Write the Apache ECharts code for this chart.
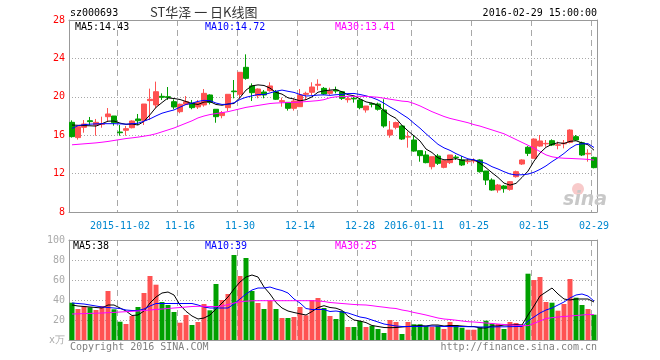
<!DOCTYPE html>
<html><head><meta charset="utf-8">
<script src="https://cdn.jsdelivr.net/npm/echarts@6.0.0/dist/echarts.min.js"></script>
<style>html,body{margin:0;padding:0;background:#fff}#c{width:660px;height:360px}</style>
</head><body><div id="c"></div>
<script>
const dates = ['2015-10-21','2015-10-22','2015-10-23','2015-10-26','2015-10-27','2015-10-28','2015-10-29','2015-10-30','2015-11-02','2015-11-03','2015-11-04','2015-11-05','2015-11-06','2015-11-09','2015-11-10','2015-11-11','2015-11-12','2015-11-13','2015-11-16','2015-11-17','2015-11-18','2015-11-19','2015-11-20','2015-11-23','2015-11-24','2015-11-25','2015-11-26','2015-11-27','2015-11-30','2015-12-01','2015-12-02','2015-12-03','2015-12-04','2015-12-07','2015-12-08','2015-12-09','2015-12-10','2015-12-11','2015-12-14','2015-12-15','2015-12-16','2015-12-17','2015-12-18','2015-12-21','2015-12-22','2015-12-23','2015-12-24','2015-12-25','2015-12-28','2015-12-29','2015-12-30','2015-12-31','2016-01-04','2016-01-05','2016-01-06','2016-01-07','2016-01-08','2016-01-11','2016-01-12','2016-01-13','2016-01-14','2016-01-15','2016-01-18','2016-01-19','2016-01-20','2016-01-21','2016-01-22','2016-01-25','2016-01-26','2016-01-27','2016-01-28','2016-01-29','2016-02-01','2016-02-02','2016-02-03','2016-02-04','2016-02-05','2016-02-15','2016-02-16','2016-02-17','2016-02-18','2016-02-19','2016-02-22','2016-02-23','2016-02-24','2016-02-25','2016-02-26','2016-02-29'];

const opens = [17.34,15.75,16.82,17.51,17.06,17.13,17.93,18.0,16.33,16.51,
 16.78,17.69,17.55,19.6,19.15,20.05,20.01,19.49,18.45,19.22,
 19.32,18.94,19.15,20.19,18.7,18.04,18.87,20.6,20.26,23.07,
 21.13,20.12,20.5,20.64,20.53,19.49,19.42,18.8,18.97,20.26,
 20.47,21.2,20.88,20.36,20.71,20.53,19.7,19.84,19.67,18.63,
 19.28,19.25,18.63,16.02,16.82,16.96,15.8,15.5,14.39,13.94,
 12.72,13.83,12.65,13.14,13.72,13.42,13.24,13.32,13.42,12.27,
 11.33,10.29,10.71,10.36,11.68,13.0,14.74,13.59,14.87,15.1,
 15.43,14.95,15.1,15.26,15.85,15.22,14.05,13.69];
const closes = [15.85,16.89,17.17,17.41,17.34,17.17,18.21,17.31,16.26,16.68,
 17.48,17.51,19.25,19.74,20.53,19.95,19.94,18.94,19.22,19.49,
 18.87,19.42,20.36,19.42,17.93,18.35,20.26,20.53,22.55,21.92,
 20.43,20.81,20.19,21.13,19.74,19.6,18.8,19.56,20.19,20.36,
 21.02,21.3,20.29,20.6,20.6,19.84,19.8,19.78,18.87,19.04,
 19.22,18.7,16.96,16.54,17.31,15.6,15.85,14.35,13.87,13.14,
 13.76,13.07,13.35,13.94,13.67,12.9,13.28,13.35,12.2,11.33,
 10.29,10.81,10.43,11.16,12.2,13.42,14.11,15.6,15.4,15.15,
 14.98,15.0,15.18,16.54,15.5,13.94,14.11,12.62];
const lows = [15.75,15.54,16.26,17.06,15.95,16.78,17.45,16.99,15.95,15.95,
 16.71,17.06,17.06,17.58,18.8,19.67,19.67,18.7,18.28,19.15,
 18.7,18.73,18.97,19.21,17.3,17.76,18.52,19.84,19.84,21.78,
 19.56,19.84,19.84,20.53,19.67,18.97,18.56,18.56,18.94,19.67,
 20.19,20.67,20.19,20.19,20.36,19.67,19.39,19.39,18.7,18.35,
 18.9,18.56,16.78,15.74,16.61,15.5,14.7,14.28,13.24,13.07,
 12.44,12.9,12.55,13.0,13.42,12.79,13.0,13.07,12.1,10.81,
 10.22,10.01,10.01,10.22,11.58,12.9,13.83,13.59,14.8,14.8,
 14.87,14.53,14.63,15.15,15.43,13.83,13.24,12.55];
const highs = [17.55,16.95,17.58,17.9,17.69,17.93,18.83,18.0,17.06,16.96,
 17.55,18.21,19.25,20.85,21.58,20.36,21.02,19.74,19.29,20.08,
 19.67,19.67,20.81,20.26,18.7,18.52,20.26,21.75,22.55,24.42,
 21.4,20.88,20.71,21.51,20.71,19.91,19.42,19.84,20.81,20.53,
 21.51,21.82,21.02,20.95,21.06,20.6,20.01,20.01,19.84,19.04,
 19.39,19.39,19.74,17.48,17.41,17.06,16.37,16.02,14.39,14.35,
 13.76,14.04,13.35,13.94,13.94,13.83,13.49,13.59,13.49,12.27,
 11.51,10.92,10.81,11.23,12.31,13.49,14.87,15.67,16.02,15.5,
 15.57,15.33,15.5,16.61,16.02,15.33,14.53,13.76];

const ma5 = [17.06,17.03,17.0,16.98,16.95,17.2,17.46,17.48,17.26,17.13,
 17.17,17.06,17.44,18.13,18.9,19.4,19.88,19.82,19.72,19.51,
 19.3,19.2,19.45,19.5,19.2,19.12,19.25,19.3,19.92,20.7,
 21.14,21.24,21.18,20.9,20.46,20.28,19.89,19.77,19.58,19.7,
 19.99,20.48,20.62,20.7,20.75,20.52,20.22,20.1,19.78,19.47,
 19.34,19.12,18.56,18.09,17.75,17.02,16.45,15.93,15.4,14.56,
 14.19,13.64,13.44,13.45,13.56,13.39,13.43,13.43,13.08,12.61,
 12.09,11.6,11.01,10.8,10.98,11.6,12.26,13.3,14.15,14.74,
 15.05,15.22,15.14,15.36,15.42,15.2,15.0,14.43];
const ma10 = [16.7,17.0,17.1,17.15,17.18,17.2,17.2,17.2,17.18,17.15,
 17.19,17.25,17.46,17.7,18.01,18.29,18.47,18.63,18.92,19.2,
 19.34,19.52,19.63,19.6,19.35,19.2,19.23,19.38,19.72,19.95,
 20.1,20.24,20.23,20.4,20.58,20.7,20.57,20.46,20.24,20.08,
 20.12,20.18,20.2,20.15,20.22,20.25,20.33,20.35,20.24,20.1,
 19.92,19.67,19.33,18.94,18.6,18.18,17.78,17.24,16.73,16.15,
 15.6,15.05,14.68,14.42,14.08,13.8,13.54,13.43,13.26,13.06,
 12.72,12.48,12.2,11.96,11.86,11.88,11.95,12.14,12.44,12.8,
 13.25,13.65,14.1,14.62,15.0,15.1,15.12,14.72];
const ma30 = [15.0,15.05,15.1,15.15,15.2,15.27,15.35,15.45,15.55,15.65,
 15.72,15.8,15.9,16.0,16.15,16.35,16.55,16.75,17.0,17.25,
 17.5,17.8,18.0,18.15,18.25,18.35,18.45,18.6,18.75,18.9,
 19.0,19.1,19.2,19.3,19.35,19.38,19.4,19.42,19.45,19.5,
 19.55,19.6,19.7,19.9,20.0,20.02,20.05,20.05,20.05,20.05,
 20.0,19.95,19.85,19.75,19.65,19.55,19.5,19.3,19.05,18.75,
 18.45,18.2,17.95,17.75,17.6,17.45,17.3,17.1,16.95,16.75,
 16.55,16.35,16.15,15.85,15.55,15.25,14.95,14.65,14.3,13.95,
 13.75,13.65,13.6,13.58,13.55,13.52,13.48,13.41];

const volume = [37.3,31,34,32.7,30,34,49,30.7,18.3,16,
 24,33,47,64,55.3,38,35,28,17.3,25,
 15,18,36,29.7,56,40,46,85,64,82,
 49,37,31,39.3,31,22,22,23,33,24.7,
 40,42,32,24,21,29,13,13,19,13,
 14.3,11,7,20,18,6,18,15.7,15.7,14,
 13.3,14.3,11,18,15,12.3,10.3,10.3,13,19.3,
 16.3,16,11,18,17,14.3,66.3,60,63,38,
 37.3,29.3,36,61,42.3,35,31,25.3];
const volMa5 = [35,34,33.5,33,32.5,32,35,35,32,29,
 24.5,25,29,37,43,47,48,45,35,28.7,
 24,21,22,25,31,37,43,51,58,63,
 65,63,53,46,37.5,32,29,27.5,26.2,25,
 28.5,32.5,34.3,32.5,31.8,29.6,23.8,20,19,17.4,
 14.5,13.5,12.5,12.3,12.5,13,13.5,14,14.5,14,
 15,15,14,14.5,14.5,14,13.5,13.5,12,12,
 14,14,15,15,15.5,15,25,34,44,48,
 52,46,41,40,41,41,41,38];
const volMa10 = [37,36.5,36,35,34,33,32.5,32,31.5,30,
 29.5,29.5,31,34,36.5,36.5,36.5,36.5,36.5,36.5,
 36.5,35,33,32,32,32,32,36,41,46,
 50,52,52,53,51,49.5,47,41,37,31.5,
 30.5,30.5,30.5,28.5,29,28,27,25,23,22,
 20,18,16,15,14,13.5,13.5,13.5,13.5,13.8,
 14,13.8,13.5,13.5,13.3,13.5,13.3,13.2,13,13,
 13,13.2,13.2,13.3,13.5,13.5,19,23,27,30,
 32,35,38,42,45,46,44,39];
const volMa30 = [26,26.2,26.4,26.6,26.8,27,27.3,27.6,28,28.3,
 28.7,29,29.5,30,30.5,31,31.5,32,32.5,33,
 33.5,33.7,33.7,33.5,33.4,34,35.5,37,38.3,38.8,
 39.2,39.3,39.3,39.3,39.3,39.3,39.3,39.3,39.3,39.3,
 39.3,39,38.5,37.5,37,36.5,36,35.5,35.2,35,
 34.3,33.5,32.8,32,31.5,30,29,27.5,26.3,25,
 23.5,22,21,20.5,19.8,19,18.3,18,17.5,17,
 16.5,16,15.5,15,14.8,14.5,14.3,16.7,19,21.5,
 22.3,23,23.5,24,24.5,25,25.5,25.4];

const tickDates = ['2015-11-02','2015-11-16','2015-11-30','2015-12-14','2015-12-28','2016-01-11','2016-01-25','2016-02-15','2016-02-29'];
const tickLabels = ['2015-11-02','11-16','11-30','12-14','12-28','2016-01-11','01-25','02-15','02-29'];

const stockCode = 'sz000693';
const titleText = 'ST华泽 一 日K线图';
const timeText = '2016-02-29 15:00:00';

const mono = '"DejaVu Sans Mono", "Liberation Mono", monospace';
const upColor = '#FF5252', downColor = '#00A000';
const borderC = '#999999';
const isTick = (i, v) => tickDates.indexOf(v) >= 0;
const vSplit = () => ({show: true, interval: isTick, lineStyle: {color: '#A8A8A8', type: [6, 4], width: 1}});
const hSplit = () => ({show: true, lineStyle: {color: '#A8A8A8', type: [1, 2], width: 1}});
const last = a => a[a.length - 1];

const chart = echarts.init(document.getElementById('c'), null, {renderer: 'canvas'});
const lineS = (data, color, xi, yi) => ({type: 'line', data, xAxisIndex: xi, yAxisIndex: yi, symbol: 'none', silent: true,
  lineStyle: {color, width: 1}, itemStyle: {color}, z: 5});

const txt = (x, y, text, fill, font, align) => ({type: 'text', x, y, silent: true, z: 100,
  style: {text, fill, font, align: align || 'left', verticalAlign: 'middle'}});

const frameAxis = (kind, gi, pos) => ({type: kind === 'x' ? 'category' : 'value', gridIndex: gi, position: pos,
  data: kind === 'x' ? dates : undefined, min: kind === 'y' ? 0 : undefined, max: kind === 'y' ? 1 : undefined,
  axisLine: {show: true, onZero: false, lineStyle: {color: borderC, width: 1}},
  axisTick: {show: false}, axisLabel: {show: false}, splitLine: {show: false}});

chart.setOption({
  animation: false,
  backgroundColor: '#fff',
  grid: [
    {left: 69, top: 20, width: 528, height: 192, show: false, outerBoundsMode: 'none', containLabel: false},
    {left: 69, top: 240, width: 528, height: 100, show: false, outerBoundsMode: 'none', containLabel: false}
  ],
  xAxis: [
    {type: 'category', gridIndex: 0, data: dates, boundaryGap: true, position: 'bottom',
     axisLine: {show: true, onZero: false, lineStyle: {color: borderC, width: 1}}, axisTick: {show: false},
     axisLabel: {interval: isTick, formatter: v => tickLabels[tickDates.indexOf(v)], color: '#0088D0', fontFamily: mono, fontSize: 10, margin: 9},
     splitLine: vSplit()},
    {type: 'category', gridIndex: 1, data: dates, boundaryGap: true, position: 'bottom',
     axisLine: {show: true, onZero: false, lineStyle: {color: borderC, width: 1}}, axisTick: {show: false}, axisLabel: {show: false},
     splitLine: vSplit()},
    frameAxis('x', 0, 'top'),
    frameAxis('x', 1, 'top')
  ],
  yAxis: [
    {type: 'value', gridIndex: 0, min: 8, max: 28, interval: 4, position: 'left',
     axisLine: {show: true, onZero: false, lineStyle: {color: borderC, width: 1}}, axisTick: {show: false},
     axisLabel: {color: '#FF0000', fontFamily: mono, fontSize: 10, margin: 4},
     splitLine: hSplit()},
    {type: 'value', gridIndex: 1, min: 0, max: 100, interval: 20, position: 'left',
     axisLine: {show: true, onZero: false, lineStyle: {color: borderC, width: 1}}, axisTick: {show: false},
     axisLabel: {color: '#AAAAAA', fontFamily: mono, fontSize: 10, margin: 4, formatter: v => v === 0 ? 'x万' : String(v)},
     splitLine: hSplit()},
    frameAxis('y', 0, 'right'),
    frameAxis('y', 1, 'right')
  ],
  series: [
    {type: 'candlestick', xAxisIndex: 0, yAxisIndex: 0, barWidth: 5, silent: true,
     data: dates.map((d, i) => [opens[i], closes[i], lows[i], highs[i]]),
     itemStyle: {color: upColor, color0: downColor, borderColor: upColor, borderColor0: downColor, borderWidth: 1}},
    lineS(ma5, '#000000', 0, 0),
    lineS(ma10, '#0000FF', 0, 0),
    lineS(ma30, '#FF00FF', 0, 0),
    {type: 'bar', xAxisIndex: 1, yAxisIndex: 1, barWidth: 5, silent: true,
     data: volume.map((v, i) => ({value: v, itemStyle: {color: closes[i] > opens[i] ? upColor : downColor}}))},
    lineS(volMa5, '#000000', 1, 1),
    lineS(volMa10, '#0000FF', 1, 1),
    lineS(volMa30, '#FF00FF', 1, 1)
  ],
  graphic: [
    txt(70, 13, stockCode, '#000', '10px ' + mono),
    txt(150, 12, titleText, '#333', '13px "Noto Sans CJK SC"'),
    txt(597, 13, timeText, '#000', '10px ' + mono, 'right'),
    txt(75, 27, 'MA5:' + last(ma5).toFixed(2), '#000', '10px ' + mono),
    txt(205, 27, 'MA10:' + last(ma10).toFixed(2), '#0000FF', '10px ' + mono),
    txt(335, 27, 'MA30:' + last(ma30).toFixed(2), '#FF00FF', '10px ' + mono),
    txt(73, 246, 'MA5:' + Math.round(last(volMa5)), '#000', '10px ' + mono),
    txt(205, 246, 'MA10:' + Math.round(last(volMa10)), '#0000FF', '10px ' + mono),
    txt(335, 246, 'MA30:' + Math.round(last(volMa30)), '#FF00FF', '10px ' + mono),
    txt(70, 347, 'Copyright 2016 SINA.COM', '#808080', '10px ' + mono),
    txt(597, 347, 'http://finance.sina.com.cn', '#808080', '10px ' + mono, 'right'),
    {type: 'circle', silent: true, z: 1, shape: {cx: 578, cy: 189, r: 6}, style: {fill: '#F8CACA'}},
    txt(563, 200, 'sina', '#C8C8C8', 'italic bold 19px "DejaVu Sans"')
  ]
});
</script></body></html>
